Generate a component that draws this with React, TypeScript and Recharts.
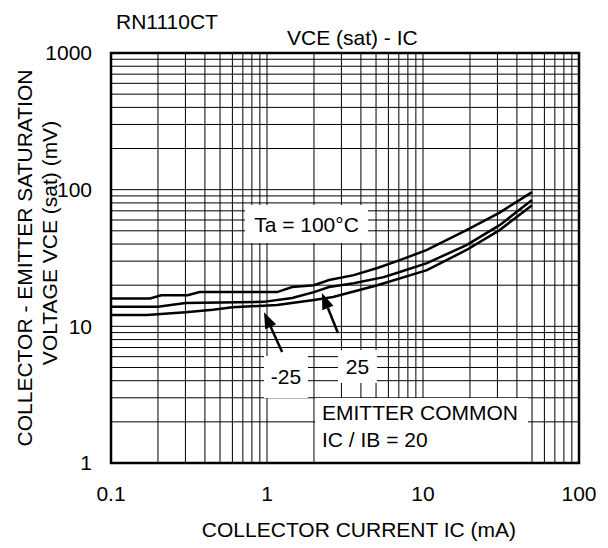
import React from "react";
import {
  LineChart,
  Line,
  XAxis,
  YAxis,
  CartesianGrid,
  ReferenceArea,
  ReferenceLine,
} from "recharts";

// Collector current IC (mA) vs VCE(sat) (mV)
const icHot = [0.1, 0.178, 0.21, 0.31, 0.37, 1.16, 1.45, 2.0, 2.5, 3.6, 5.1, 7.1, 10.6, 19, 31, 50];
const vceHot = [16, 16, 16.9, 16.9, 17.8, 17.8, 19.4, 20, 21.8, 23.7, 26.7, 30.5, 36.2, 50.6, 68, 96];

const icRoom = [0.1, 0.2, 0.3, 0.95, 1.45, 2.0, 2.5, 3.6, 5.6, 7.1, 10.6, 19, 31, 50];
const vceRoom = [13.9, 13.9, 14.8, 15.1, 16.1, 17.8, 19.4, 20.7, 22.9, 25, 29, 39.3, 55, 84];

const icCold = [0.1, 0.17, 0.3, 0.45, 0.6, 1.16, 2.0, 2.65, 5.1, 10.6, 19, 31, 50];
const vceCold = [12.1, 12.1, 12.7, 13.2, 13.8, 14.3, 15.6, 16.4, 20, 25.8, 36.2, 50.6, 77];

// log grid lines
const xGrid = [
  0.1, 0.2, 0.3, 0.4, 0.5, 0.6, 0.7, 0.8, 0.9,
  1, 2, 3, 4, 5, 6, 7, 8, 9,
  10, 20, 30, 40, 50, 60, 70, 80, 90, 100,
];
const yGrid = [
  1, 2, 3, 4, 5, 6, 7, 8, 9,
  10, 20, 30, 40, 50, 60, 70, 80, 90,
  100, 200, 300, 400, 500, 600, 700, 800, 900, 1000,
];
const xMajor = [0.1, 1, 10, 100];
const xLabels = ["0.1", "1", "10", "100"];
const yMajor = [1, 10, 100, 1000];
const yLabels = ["1", "10", "100", "1000"];

const FONT = '"Liberation Sans", Arial, Helvetica, sans-serif';
const FS = 21;

const toPoints = (ic: number[], vce: number[]) => ic.map((x, i) => ({ ic: x, vce: vce[i] }));

const fmt = (major: number[], labels: string[]) => (v: number) => {
  const i = major.findIndex((m) => Math.abs(m - v) < 1e-9);
  return i >= 0 ? labels[i] : "";
};

function Arrow(props: any) {
  const { x1, y1, x2, y2 } = props;
  const dx = x2 - x1;
  const dy = y2 - y1;
  const len = Math.hypot(dx, dy) || 1;
  const ux = dx / len;
  const uy = dy / len;
  const hl = 16;
  const hw = 6;
  const bx = x2 - ux * hl;
  const by = y2 - uy * hl;
  return (
    <g>
      <line x1={x1} y1={y1} x2={bx} y2={by} stroke="#000" strokeWidth={2.5} />
      <polygon
        points={`${x2},${y2} ${bx - uy * hw},${by + ux * hw} ${bx + uy * hw},${by - ux * hw}`}
        fill="#000"
      />
    </g>
  );
}

function NoteLabel(props: any) {
  const { x, y } = props.viewBox;
  return (
    <text fontFamily={FONT} fontSize={FS} fill="#000">
      <tspan x={x + 7} y={y + 22.5}>EMITTER COMMON</tspan>
      <tspan x={x + 7} y={y + 49.5}>IC / IB = 20</tspan>
    </text>
  );
}

const boxLabel = (value: string) => ({
  value,
  position: "center" as const,
  fill: "#000",
  fontSize: FS,
  fontFamily: FONT,
});

export default function App() {
  return (
    <div style={{ position: "absolute", left: 0, top: 0, width: 608, height: 548, background: "#fff" }}>
      <LineChart
        width={608}
        height={548}
        margin={{ top: 53, right: 29, bottom: 45, left: 51 }}
      >
        <CartesianGrid stroke="#000" strokeWidth={1} />
        <XAxis
          type="number"
          dataKey="ic"
          scale="log"
          domain={[0.1, 100]}
          allowDataOverflow
          ticks={xGrid}
          interval={0}
          tickFormatter={fmt(xMajor, xLabels)}
          axisLine={false}
          tickLine={false}
          tickSize={0}
          tickMargin={23}
          height={40}
          tick={{ fill: "#000", fontSize: FS, fontFamily: FONT }}
        />
        <YAxis
          type="number"
          dataKey="vce"
          scale="log"
          domain={[1, 1000]}
          allowDataOverflow
          ticks={yGrid}
          interval={0}
          tickFormatter={fmt(yMajor, yLabels)}
          axisLine={false}
          tickLine={false}
          tickSize={0}
          tickMargin={19}
          width={60}
          tick={{ fill: "#000", fontSize: FS, fontFamily: FONT }}
        />

        <ReferenceArea x1={0.723} x2={4.44} y1={40.7} y2={77.1} fill="#fff" fillOpacity={1} stroke="none" label={boxLabel("Ta = 100°C")} />
        <ReferenceArea x1={0.957} x2={1.83} y1={2.99} y2={6.06} fill="#fff" fillOpacity={1} stroke="none" label={boxLabel("-25")} />
        <ReferenceArea x1={2.85} x2={5.07} y1={3.85} y2={6.71} fill="#fff" fillOpacity={1} stroke="none" label={boxLabel("25")} />
        <ReferenceArea x1={2.03} x2={47.1} y1={1} y2={2.99} fill="#fff" fillOpacity={1} stroke="none" label={(p: any) => <NoteLabel {...p} />} />

        <ReferenceArea x1={0.1} x2={100} y1={1} y2={1000} fill="none" stroke="#000" strokeWidth={2.5} />

        <Line data={toPoints(icHot, vceHot)} dataKey="vce" stroke="#000" strokeWidth={2.5} dot={false} isAnimationActive={false} />
        <Line data={toPoints(icRoom, vceRoom)} dataKey="vce" stroke="#000" strokeWidth={2.5} dot={false} isAnimationActive={false} />
        <Line data={toPoints(icCold, vceCold)} dataKey="vce" stroke="#000" strokeWidth={2.5} dot={false} isAnimationActive={false} />

        <ReferenceLine segment={[{ x: 1.25, y: 6.5 }, { x: 0.957, y: 12.7 }]} shape={(p: any) => <Arrow {...p} />} />
        <ReferenceLine segment={[{ x: 2.85, y: 8.93 }, { x: 2.25, y: 17.5 }]} shape={(p: any) => <Arrow {...p} />} />
      </LineChart>

      <svg
        width={608}
        height={548}
        style={{ position: "absolute", left: 0, top: 0, pointerEvents: "none" }}
        fontFamily={FONT}
        fontSize={FS}
        fill="#000"
      >
        <text x={116} y={29}>RN1110CT</text>
        <text x={287} y={44.5}>VCE (sat) - IC</text>
        <text x={359} y={537} textAnchor="middle">COLLECTOR CURRENT IC (mA)</text>
        <text transform="translate(32,258) rotate(-90)" textAnchor="middle">COLLECTOR - EMITTER SATURATION</text>
        <text transform="translate(57,243) rotate(-90)" textAnchor="middle">VOLTAGE VCE (sat) (mV)</text>
      </svg>
    </div>
  );
}
